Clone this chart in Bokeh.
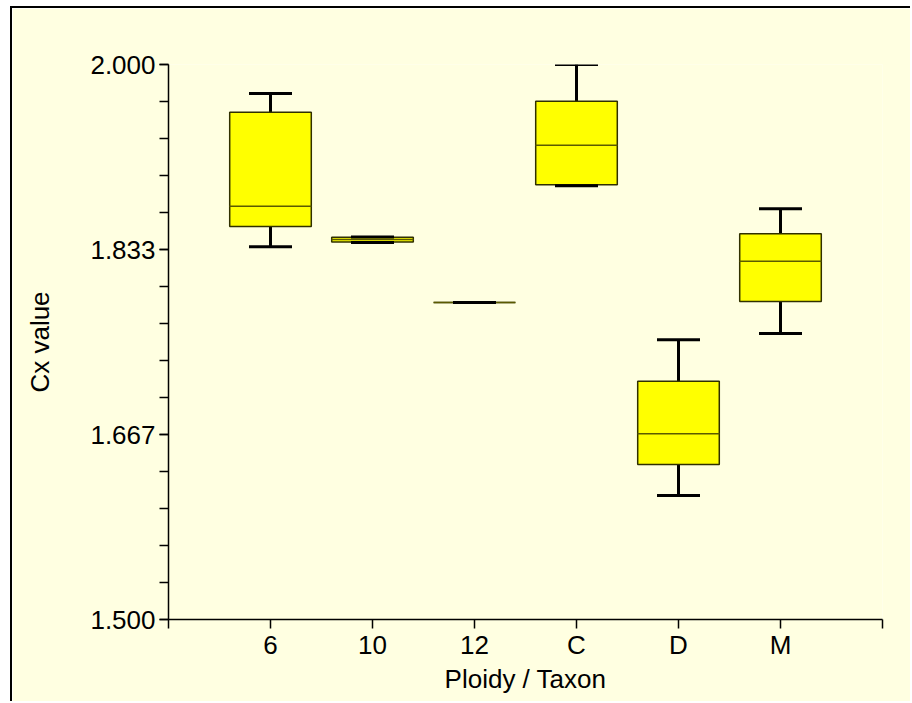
from bokeh.plotting import figure
from bokeh.models import ColumnDataSource, FixedTicker, PrintfTickFormatter, Range1d
from bokeh.embed import file_html
from bokeh.resources import INLINE

# Groups along the x axis
groups = ["6", "10", "12", "C", "D", "M"]

# Five-number summaries of the Cx value per group
whisker_low = [1.8357, 1.8396, 1.7856, 1.8907, 1.6117, 1.7577]
q1 = [1.8540, 1.8400, 1.7856, 1.8916, 1.6396, 1.7865]
median = [1.8724, 1.8423, 1.7856, 1.9273, 1.6673, 1.8228]
q3 = [1.9570, 1.8443, 1.7856, 1.9670, 1.7147, 1.8475]
whisker_high = [1.9739, 1.8447, 1.7856, 2.0000, 1.7520, 1.8700]

# Y axis ticks (labelled) and minor ticks
y_ticks = [1.5, 1.5 + 1 / 6, 1.5 + 2 / 6, 2.0]
y_minor_ticks = [1.5 + i / 30 for i in range(16)]

BG = "#FFFFE1"
FONT = "Liberation Sans"
FS = "26px"

pos = list(range(1, len(groups) + 1))
src = ColumnDataSource(dict(
    x=pos, lo=whisker_low, q1=q1, med=median, q3=q3, hi=whisker_high,
))

p = figure(
    width=900, height=695,
    output_backend="svg", toolbar_location=None,
    x_range=Range1d(0, len(groups) + 1), y_range=Range1d(1.5, 2.0),
    background_fill_color=BG, border_fill_color=BG,
    min_border_left=156, min_border_top=56, min_border_right=30, min_border_bottom=84,
)
p.outline_line_color = None
p.xgrid.visible = False
p.ygrid.visible = False
p.margin = (6, 0, 0, 10)
p.styles = {"border-top": "2px solid black", "border-left": "2px solid black"}

# whiskers
p.segment(x0="x", y0="q3", x1="x", y1="hi", source=src, line_color="black", line_width=3)
p.segment(x0="x", y0="lo", x1="x", y1="q1", source=src, line_color="black", line_width=3)
# boxes
p.vbar(x="x", width=0.8, bottom="q1", top="q3", source=src,
       fill_color="#FFFF00", line_color="#303000", line_width=1.5)
# median lines
p.scatter(x="x", y="med", marker="dash", size=82, source=src,
          line_color="#5A5A00", line_width=1.5)
# caps
p.scatter(x="x", y="hi", marker="dash", size=43, source=src,
          line_color="black", line_width=3)
p.scatter(x="x", y="lo", marker="dash", size=43, source=src,
          line_color="black", line_width=3)

# x axis
xa = p.xaxis[0]
xa.ticker = FixedTicker(ticks=list(range(0, len(groups) + 2)))
xa.major_label_overrides = {0: "", len(groups) + 1: "", **{i: g for i, g in zip(pos, groups)}}
xa.axis_label = "Ploidy / Taxon"
xa.minor_tick_line_color = None

# y axis
ya = p.yaxis[0]
ya.ticker = FixedTicker(ticks=y_ticks, minor_ticks=y_minor_ticks)
ya.formatter = PrintfTickFormatter(format="%.3f")
ya.axis_label = "Cx value"

for ax in (xa, ya):
    ax.axis_line_color = "black"
    ax.axis_line_width = 1.5
    ax.major_tick_line_color = "black"
    ax.major_tick_line_width = 1.5
    ax.minor_tick_line_width = 1.5
    ax.major_tick_in = 0
    ax.major_tick_out = 9
    ax.minor_tick_in = 0
    ax.minor_tick_out = 9
    ax.major_label_text_font = FONT
    ax.major_label_text_font_size = FS
    ax.major_label_text_color = "black"
    ax.axis_label_text_font = FONT
    ax.axis_label_text_font_size = FS
    ax.axis_label_text_font_style = "normal"
    ax.axis_label_text_color = "black"
ya.minor_tick_line_color = "black"
ya.major_label_standoff = 4
ya.axis_label_standoff = 32
xa.major_label_standoff = 1
xa.axis_label_standoff = 1

open("out.html", "w").write(file_html(p, INLINE))
